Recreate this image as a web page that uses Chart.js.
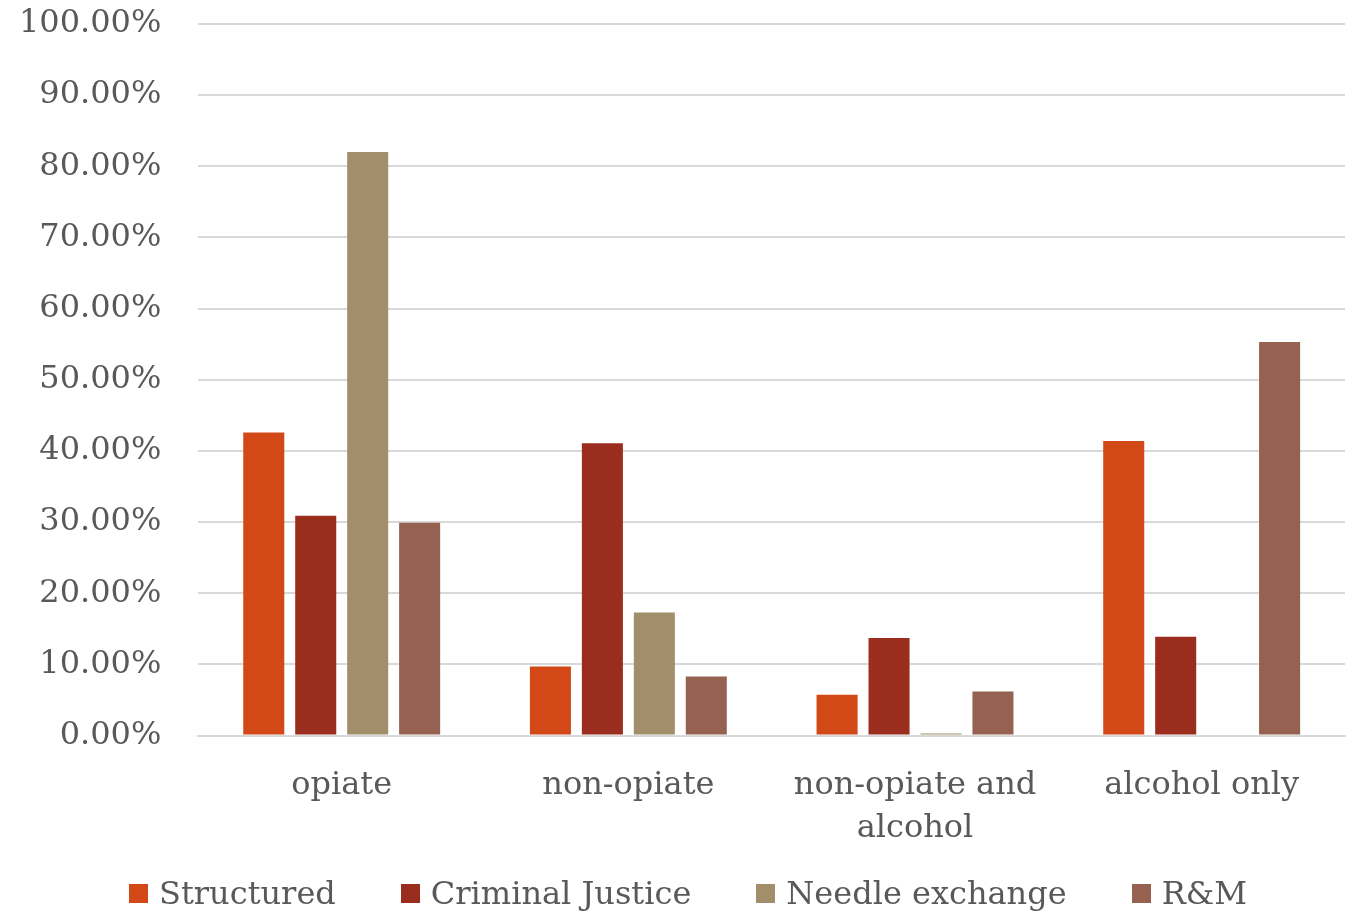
<!DOCTYPE html>
<html>
<head>
<meta charset="utf-8">
<script src="https://cdn.jsdelivr.net/npm/chart.js@4"></script>
<style>
  html, body { margin: 0; padding: 0; background: #fff; }
  #wrap { position: relative; width: 1352px; height: 912px; }
  #legend {
    position: absolute; left: 0; right: 0; top: 873px; height: 40px;
    display: flex; justify-content: center; gap: 65px; padding-left: 24px;
    font-family: 'DejaVu Serif', serif; font-size: 32px; line-height: 40px; color: #595959;
  }
  #legend .item { display: flex; align-items: center; white-space: nowrap; }
  #legend .box { width: 19px; height: 19px; margin-right: 11px; }
</style>
</head>
<body>
<div id="wrap">
  <canvas id="chart"></canvas>
  <div id="legend"></div>
</div>
<script>
// --- Data ---
const categories = ['opiate', 'non-opiate', ['non-opiate and', 'alcohol'], 'alcohol only'];
const structured = [42.6, 9.7, 5.75, 41.4];
const criminalJustice = [30.9, 41.1, 13.7, 13.9];
const needleExchange = [82.0, 17.3, 0.3, 0];
const randM = [29.9, 8.3, 6.2, 55.3];
const yTicks = [0, 10, 20, 30, 40, 50, 60, 70, 80, 90, 100];

const seriesNames = ['Structured', 'Criminal Justice', 'Needle exchange', 'R&M'];
const seriesColors = ['#D34817', '#9B2D1F', '#A28E6A', '#956251'];
const seriesData = [structured, criminalJustice, needleExchange, randM];

const fontFamily = "'DejaVu Serif', serif";
const textColor = '#595959';

const ctx = document.getElementById('chart').getContext('2d');
const chart = new Chart(ctx, {
    type: 'bar',
    data: {
        labels: categories,
        datasets: seriesNames.map((name, i) => ({
            label: name,
            data: seriesData[i],
            backgroundColor: seriesColors[i],
            borderWidth: 0,
            barPercentage: 0.79,
            categoryPercentage: 0.725
        }))
    },
    options: {
        responsive: true,
        maintainAspectRatio: false,
        animation: false,
        layout: { padding: { top: 0, right: 7, left: -18, bottom: 42 } },
        plugins: {
            legend: { display: false },
            tooltip: { enabled: false }
        },
        scales: {
            x: {
                grid: { display: false },
                border: { color: '#D9D9D9', width: 2 },
                ticks: {
                    color: textColor,
                    font: { family: fontFamily, size: 32, lineHeight: 1.35 },
                    maxRotation: 0,
                    padding: 20
                }
            },
            y: {
                min: 0,
                max: 100,
                afterBuildTicks: axis => { axis.ticks = yTicks.map(v => ({ value: v })); },
                afterFit: axis => { axis.paddingTop = 24; },
                grid: { color: '#D9D9D9', lineWidth: 2, drawTicks: false },
                border: { display: false },
                ticks: {
                    color: textColor,
                    font: { family: fontFamily, size: 32 },
                    padding: 37,
                    callback: v => v.toFixed(2) + '%'
                }
            }
        }
    }
});

// --- HTML legend built from the chart's datasets ---
const legendEl = document.getElementById('legend');
chart.data.datasets.forEach(ds => {
    const item = document.createElement('div');
    item.className = 'item';
    item.innerHTML = `<span class="box" style="background:${ds.backgroundColor}"></span><span></span>`;
    item.lastChild.textContent = ds.label;
    legendEl.appendChild(item);
});
</script>
</body>
</html>
